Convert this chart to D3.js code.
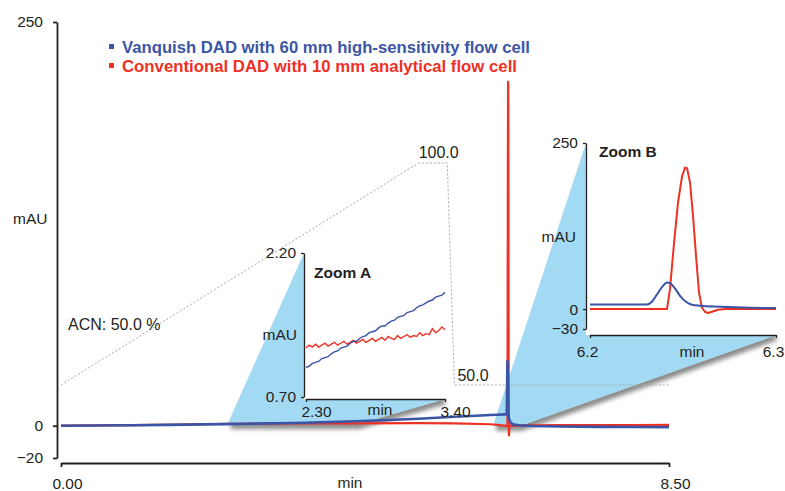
<!DOCTYPE html>
<html>
<head>
<meta charset="utf-8">
<script src="https://cdn.jsdelivr.net/npm/d3@7"></script>
<style>
  body { margin: 0; background: #fff; }
  svg text { font-family: "Liberation Sans", Arial, Helvetica, sans-serif; fill: #231f20; }
</style>
</head>
<body>
<div id="chart"></div>
<script>
// ---- data ----
// main chromatogram, before and after the peak window shown in Zoom B
const bluePreTime  = [0, 0.5, 1, 1.5, 2, 2.3, 2.6, 3.0, 3.4, 4.0, 4.5, 5.0, 5.5, 5.8, 6.0, 6.1];
const bluePreValue = [0, 0.1, 0.3, 0.5, 0.8, 1.0, 1.2, 1.5, 1.8, 2.6, 3.4, 4.3, 5.5, 6.2, 6.6, 6.8];
const bluePostTime  = [6.32, 6.4, 6.6, 7.0, 7.5, 8.0, 8.5];
const bluePostValue = [0.8, 0.3, -0.2, -0.5, -0.7, -0.8, -1.0];
const redPreTime  = [0, 1, 2, 2.3, 3.4, 4.0, 5.0, 5.5, 6.0, 6.1];
const redPreValue = [0, 0.4, 0.9, 1.2, 1.4, 1.5, 1.6, 1.5, 0.9, 0.5];
const redPostTime  = [6.32, 6.5, 7.0, 8.0, 8.5];
const redPostValue = [0, 0.2, 0.3, 0.4, 0.5];

// Zoom B window 6.2 - 6.3 min
const peakBlueTime  = [6.2, 6.2306, 6.2333, 6.236, 6.2387, 6.2414, 6.243, 6.2457, 6.2484, 6.2516, 6.2548, 6.2591, 6.2699, 6.286, 6.3];
const peakBlueValue = [7, 7, 11, 22, 33, 40, 39, 31, 20, 11, 6.5, 5, 3.5, 2, 1.5];
const peakRedTime  = [6.2, 6.2414, 6.243, 6.2452, 6.2473, 6.2495, 6.2511, 6.2522, 6.2538, 6.2554, 6.257, 6.2586, 6.2602, 6.2618, 6.2634, 6.2656, 6.2688, 6.2726, 6.3];
const peakRedValue = [0, 0, 30, 100, 160, 200, 213, 212, 190, 140, 80, 25, 2, -4, -6, -4, -1, 0, 0];

// Zoom A window 2.30 - 3.40 min, 45 samples
const zoomATime = d3.range(45).map(i => 2.3 + i * 0.025);
const zoomABlue = [1.01,1.02,1.05,1.06,1.07,1.10,1.11,1.12,1.15,1.17,1.18,1.21,1.22,1.23,1.26,1.28,1.28,1.31,1.33,1.34,1.37,1.38,1.39,1.42,1.44,1.44,1.47,1.49,1.50,1.53,1.54,1.55,1.58,1.59,1.60,1.63,1.65,1.66,1.68,1.70,1.71,1.74,1.75,1.76,1.79];
const zoomARed  = [1.21,1.24,1.22,1.25,1.22,1.24,1.26,1.23,1.25,1.27,1.24,1.26,1.28,1.25,1.27,1.29,1.26,1.28,1.30,1.27,1.29,1.31,1.28,1.30,1.32,1.29,1.33,1.31,1.30,1.34,1.31,1.33,1.35,1.32,1.34,1.33,1.37,1.34,1.36,1.35,1.41,1.37,1.39,1.43,1.40];

// ACN gradient
const acnTime  = [0, 5.0, 5.4, 5.5, 8.5];
const acnValue = [50, 100, 100, 50, 50];

const mainXTicks = [0, 8.5];
const mainYTicks = [-20, 0, 250];
const zoomAXTicks = [2.3, 3.4];
const zoomAYTicks = [0.7, 2.2];
const zoomBXTicks = [6.2, 6.3];
const zoomBYTicks = [-30, 0, 250];

const legendLabels = ["Vanquish DAD with 60 mm high-sensitivity flow cell", "Conventional DAD with 10 mm analytical flow cell"];

// ---- setup ----
const W = 785, H = 491;
const BLUE = "#3a54a6", RED = "#ee3124", SHADE = "#a3daf3", INK = "#231f20";

const zip = (t, v) => t.map((d, i) => ({ t: d, v: v[i] }));
const blueMain = zip(bluePreTime, bluePreValue).concat(zip(peakBlueTime, peakBlueValue), zip(bluePostTime, bluePostValue));
const redMain = zip(redPreTime, redPreValue).concat(zip(peakRedTime, peakRedValue), zip(redPostTime, redPostValue));

const svg = d3.select("#chart").append("svg")
  .attr("width", W)
  .attr("height", H);

const defs = svg.append("defs");
defs.append("filter")
  .attr("id", "shadow")
  .attr("x", "-20%").attr("y", "-20%").attr("width", "150%").attr("height", "150%")
  .append("feDropShadow")
  .attr("dx", 2).attr("dy", 5).attr("stdDeviation", 2.2)
  .attr("flood-color", "#000").attr("flood-opacity", 0.45);

// scales
const x = d3.scaleLinear().domain([0, 8.5]).range([61, 669]);
const y = d3.scaleLinear().domain([-20, 250]).range([458, 22]);
const acnY = d3.scaleLinear().domain([50, 100]).range([385, 163]);

const xA = d3.scaleLinear().domain([2.3, 3.4]).range([306, 445]);
const yA = d3.scaleLinear().domain([0.7, 2.2]).range([397, 253]);
const xB = d3.scaleLinear().domain([6.2, 6.3]).range([590, 776]);
const yB = d3.scaleLinear().domain([-30, 250]).range([329, 143]);

// ---- zoom wedges ----
const wedgeA = [[x(2.3) + 2, y(1)], [xA.range()[0] - 2, yA(2.2)], [xA(3.4), yA(0.7) + 2], [x(4.15), y(1)]];
const wedgeB = [[x(6.04), y(0)], [xB.range()[0] - 4, yB(250)], [xB(6.3), yB(-30) + 6], [x(6.42), y(0)]];

svg.append("g").selectAll("path")
  .data([wedgeA, wedgeB])
  .enter().append("path")
  .attr("d", d => "M" + d.join("L") + "Z")
  .attr("fill", SHADE)
  .attr("filter", "url(#shadow)");

// inset backgrounds
svg.append("rect")
  .attr("x", xA.range()[0] - 2).attr("y", 240)
  .attr("width", xA(3.4) - xA.range()[0] + 4).attr("height", yA(0.7) + 2 - 240)
  .attr("fill", "#fff");
svg.append("rect")
  .attr("x", xB.range()[0] - 4).attr("y", 118)
  .attr("width", xB(6.3) - xB.range()[0] + 6).attr("height", yB(-30) + 6 - 118)
  .attr("fill", "#fff");

// ---- ACN gradient ----
const acnLine = d3.line().x(d => x(d.t)).y(d => acnY(d.v));
svg.append("path")
  .datum(zip(acnTime, acnValue))
  .attr("d", acnLine)
  .attr("fill", "none")
  .attr("stroke", "#a8a8a8")
  .attr("stroke-width", 1)
  .attr("stroke-dasharray", "2,2");

svg.append("text").attr("x", 68).attr("y", 330).attr("font-size", "16px").text("ACN: 50.0 %");
svg.append("text").attr("x", x(5.0)).attr("y", acnY(100) - 5).attr("font-size", "16px").text("100.0");
svg.append("text").attr("x", x(5.5) + 3).attr("y", acnY(50) - 4).attr("font-size", "16px").text("50.0");

// ---- main traces ----
const mainLine = d3.line().x(d => x(d.t)).y(d => y(d.v));
svg.append("path").datum(redMain)
  .attr("d", mainLine).attr("fill", "none")
  .attr("stroke", RED).attr("stroke-width", 2.2).attr("stroke-linejoin", "round");
svg.append("path").datum(blueMain)
  .attr("d", mainLine).attr("fill", "none")
  .attr("stroke", BLUE).attr("stroke-width", 2.6).attr("stroke-linejoin", "round");

// ---- main axes ----
const yAxis = d3.axisLeft(y).tickValues(mainYTicks).tickSize(4).tickSizeOuter(0).tickPadding(10);
const xAxis = d3.axisBottom(x).tickValues(mainXTicks).tickSize(4).tickSizeOuter(0).tickFormat(d3.format(".2f"));

function styleAxis(g, fs, sw) {
  g.selectAll("path.domain").attr("stroke", INK).attr("stroke-width", sw);
  g.selectAll(".tick line").attr("stroke", INK).attr("stroke-width", sw);
  g.selectAll(".tick text").attr("font-size", fs).attr("fill", INK)
    .style("font-family", "'Liberation Sans', Arial, sans-serif");
}

const gy = svg.append("g").attr("transform", "translate(57,0)").call(yAxis);
styleAxis(gy, "15.5px", 1.8);
const gx = svg.append("g").attr("transform", "translate(0,463)").call(xAxis);
styleAxis(gx, "15.5px", 1.8);
gx.selectAll(".tick text").attr("dy", null).attr("y", 26).attr("dx", 6);

svg.append("text").attr("x", 13).attr("y", 224).attr("font-size", "15.5px").text("mAU");
svg.append("text").attr("x", 350).attr("y", 488).attr("text-anchor", "middle").attr("font-size", "15.5px").text("min");

// ---- Zoom A ----
const lineA = d3.line().x(d => xA(d.t)).y(d => yA(d.v));
svg.append("path").datum(zip(zoomATime, zoomARed))
  .attr("d", lineA).attr("fill", "none").attr("stroke", RED).attr("stroke-width", 1.4);
svg.append("path").datum(zip(zoomATime, zoomABlue))
  .attr("d", lineA).attr("fill", "none").attr("stroke", BLUE).attr("stroke-width", 1.4);

const gyA = svg.append("g").attr("transform", "translate(304,0)")
  .call(d3.axisLeft(yA).tickValues(zoomAYTicks).tickSize(3).tickSizeOuter(0).tickPadding(5).tickFormat(d3.format(".2f")));
styleAxis(gyA, "15.5px", 1.3);
const gxA = svg.append("g").attr("transform", "translate(0,399)")
  .call(d3.axisBottom(xA).tickValues(zoomAXTicks).tickSize(3).tickSizeOuter(0).tickFormat(d3.format(".2f")));
styleAxis(gxA, "15.5px", 1.3);
gxA.selectAll(".tick text").attr("dy", null).attr("y", 18).attr("dx", 10);

svg.append("text").attr("x", 297).attr("y", 340).attr("text-anchor", "end").attr("font-size", "15.5px").text("mAU");
svg.append("text").attr("x", 380).attr("y", 415).attr("text-anchor", "middle").attr("font-size", "15.5px").text("min");
svg.append("text").attr("x", 314).attr("y", 278).attr("font-size", "15.5px").attr("font-weight", "bold").text("Zoom A");

// ---- Zoom B ----
const lineB = d3.line().x(d => xB(d.t)).y(d => yB(d.v));
svg.append("path").datum(zip(peakRedTime, peakRedValue))
  .attr("d", lineB).attr("fill", "none").attr("stroke", RED).attr("stroke-width", 2).attr("stroke-linejoin", "round");
svg.append("path").datum(zip(peakBlueTime, peakBlueValue))
  .attr("d", d3.line().curve(d3.curveMonotoneX).x(d => xB(d.t)).y(d => yB(d.v)))
  .attr("fill", "none").attr("stroke", BLUE).attr("stroke-width", 2);

const gyB = svg.append("g").attr("transform", "translate(586,0)")
  .call(d3.axisLeft(yB).tickValues(zoomBYTicks).tickSize(3).tickSizeOuter(0).tickPadding(5));
styleAxis(gyB, "15.5px", 1.3);
const gxB = svg.append("g").attr("transform", "translate(0,335)")
  .call(d3.axisBottom(xB).tickValues(zoomBXTicks).tickSize(3).tickSizeOuter(0).tickFormat(d3.format(".1f")));
styleAxis(gxB, "15.5px", 1.3);
gxB.selectAll(".tick text").attr("dy", null).attr("y", 22).attr("dx", -3);

svg.append("text").attr("x", 576).attr("y", 242).attr("text-anchor", "end").attr("font-size", "15.5px").text("mAU");
svg.append("text").attr("x", 692).attr("y", 357).attr("text-anchor", "middle").attr("font-size", "15.5px").text("min");
svg.append("text").attr("x", 599).attr("y", 157).attr("font-size", "15.5px").attr("font-weight", "bold").text("Zoom B");

// ---- legend ----
const legend = svg.append("g").selectAll("g")
  .data(legendLabels)
  .enter().append("g")
  .attr("transform", (d, i) => "translate(109," + (44 + i * 19) + ")");
legend.append("rect")
  .attr("width", 5).attr("height", 5)
  .attr("fill", (d, i) => i === 0 ? BLUE : RED);
legend.append("text")
  .attr("x", 13).attr("y", 9)
  .attr("font-size", "16.5px").attr("font-weight", "bold")
  .style("fill", (d, i) => i === 0 ? "#3d55a5" : RED)
  .attr("textLength", (d, i) => i === 0 ? 408 : 395)
  .attr("lengthAdjust", "spacingAndGlyphs")
  .text(d => d);
</script>
</body>
</html>
